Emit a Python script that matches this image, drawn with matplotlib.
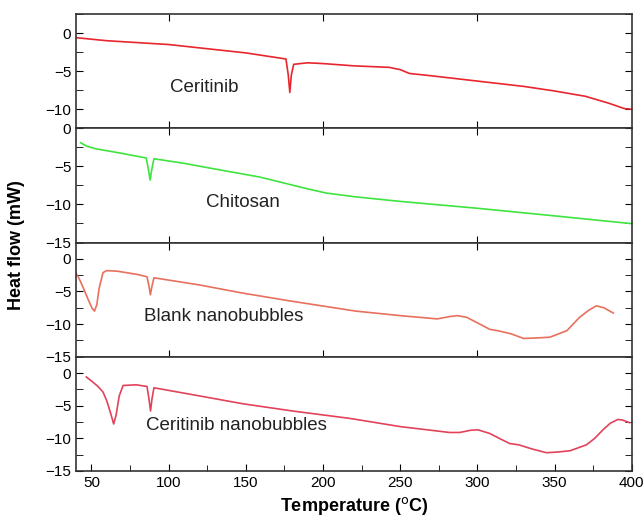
import numpy as np
import matplotlib
matplotlib.use('Agg')
import matplotlib.pyplot as plt
from matplotlib.ticker import MultipleLocator

plt.rcParams['font.family'] = ['Liberation Sans', 'DejaVu Sans']

# Curvas DSC (temperatura en C, flujo de calor en mW)
t_ceritinib = [40, 60, 100, 150, 176, 177.5, 178.5, 179.5, 181, 190, 200, 220, 243, 250, 256,
               270, 300, 330, 350, 370, 385, 395, 400]
q_ceritinib = [-0.6, -1.0, -1.5, -2.6, -3.4, -5.5, -7.8, -5.5, -4.1, -3.9, -4.0, -4.3, -4.5, -4.8, -5.3,
               -5.6, -6.3, -7.0, -7.6, -8.3, -9.2, -9.9, -10.0]

t_chitosan = [43, 47, 53, 70, 85.5, 87, 88, 89, 90.5, 110, 126, 159, 191, 202, 221, 250, 300, 350, 399]
q_chitosan = [-1.9, -2.35, -2.7, -3.3, -3.9, -5.5, -6.8, -5.5, -4.0, -4.6, -5.2, -6.4, -8.0, -8.5,
              -9.0, -9.6, -10.5, -11.5, -12.5]

t_blank = [40, 42, 45, 48, 50.5, 52, 53.5, 55, 57.5, 60, 67, 80, 86, 87.3, 88.2, 89.2, 90.5, 120,
           148, 180, 221, 250, 274, 282, 287, 293, 300, 308, 314, 322, 330, 340, 347, 358, 366,
           372, 377, 382, 388]
q_blank = [-2.2, -3.0, -4.6, -6.3, -7.6, -8.0, -7.0, -4.5, -2.1, -1.8, -1.9, -2.4, -2.75, -4.2,
           -5.5, -4.2, -2.9, -4.0, -5.25, -6.5, -8.0, -8.7, -9.2, -8.85, -8.7, -8.95, -9.8, -10.8,
           -11.05, -11.5, -12.2, -12.1, -12.0, -11.0, -9.0, -7.9, -7.2, -7.5, -8.3]

t_cer_nb = [46.7, 51, 54, 57.5, 60, 62.5, 64.4, 66, 68, 70.5, 79, 86, 87.3, 88.3, 89.2, 90.5, 120,
            148, 180, 217.5, 250, 282, 288.5, 296, 300.5, 308, 315, 321, 327, 335, 344.7, 352,
            360, 370.6, 376, 381.3, 386, 391, 394, 398.6]
q_cer_nb = [-0.6, -1.4, -2.0, -2.9, -4.3, -6.2, -7.8, -6.4, -3.5, -1.9, -1.8, -2.05, -4.0, -5.8,
            -4.0, -2.25, -3.5, -4.7, -5.8, -6.95, -8.2, -9.1, -9.1, -8.75, -8.7, -9.25, -10.1,
            -10.8, -11.0, -11.6, -12.2, -12.1, -11.9, -11.0, -10.0, -8.7, -7.7, -7.1, -7.2, -7.6]

muestras = ['Ceritinib', 'Chitosan', 'Blank nanobubbles', 'Ceritinib nanobubbles']
curvas = [(t_ceritinib, q_ceritinib), (t_chitosan, q_chitosan), (t_blank, q_blank), (t_cer_nb, q_cer_nb)]
colores = ['#e8262e', '#3fe43f', '#e8705c', '#e2435a']
limites_y = [(-12.5, 2.5), (-15, 0), (-15, 2.5), (-15, 2.5)]
pos_texto = [(101, -7.2), (124, -9.7), (84, -8.85), (85.5, -8.0)]

fig, axes = plt.subplots(4, 1, figsize=(6.44, 5.21), dpi=100)
fig.subplots_adjust(left=0.118, right=0.981, top=0.973, bottom=0.096, hspace=0)

for i, ax in enumerate(axes):
    t, q = curvas[i]
    ax.plot(t, q, color=colores[i], lw=1.2)
    ax.set_ylim(*limites_y[i])
    ax.set_xlim(40, 400)
    ax.yaxis.set_major_locator(MultipleLocator(5))
    ax.yaxis.set_minor_locator(MultipleLocator(2.5))
    ax.tick_params(axis='y', which='both', direction='in', right=True, labelsize=11, length=5)
    ax.text(pos_texto[i][0], pos_texto[i][1], muestras[i], fontsize=13.5, color='#222222',
            ha='left', va='center')
    for s in ax.spines.values():
        s.set_linewidth(1.2)
        s.set_color('#333333')

# paneles interiores: ticks x solo cada 100, sin etiquetas
for ax in axes[:3]:
    ax.set_xticks([100, 200, 300])
    ax.tick_params(axis='x', which='both', direction='in', top=True, bottom=True, length=5,
                   labelbottom=False)

axes[3].set_xticks(np.arange(50, 401, 50))
axes[3].xaxis.set_minor_locator(MultipleLocator(25))
axes[3].tick_params(axis='x', which='both', direction='in', top=False, labelsize=11)
axes[3].tick_params(axis='x', which='major', length=5)
axes[3].tick_params(axis='x', which='minor', length=4)

axes[3].set_xlabel('Temperature ($^{\\mathrm{o}}$C)', fontsize=13, fontweight='bold')
fig.text(0.025, 0.53, 'Heat flow (mW)', rotation=90, fontsize=13, fontweight='bold',
         ha='center', va='center')

plt.savefig('out.png', dpi=100)
